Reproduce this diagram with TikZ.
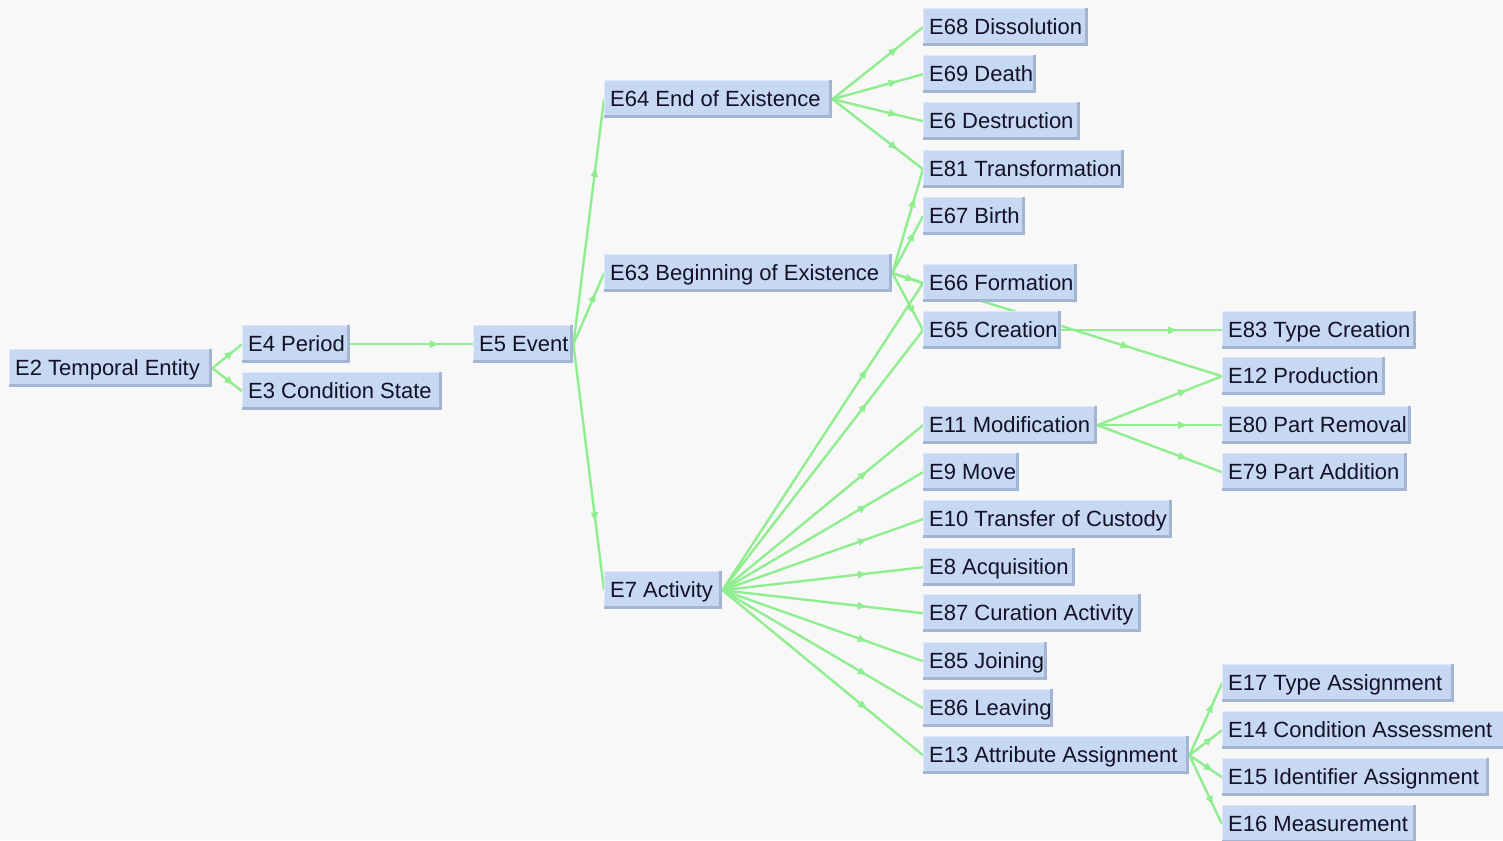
\documentclass[tikz,border=0pt]{standalone}
\usepackage{fontspec}
\setmainfont{Liberation Sans}
\usetikzlibrary{arrows.meta,decorations.markings}
\definecolor{bgc}{RGB}{248,248,248}
\definecolor{boxfill}{RGB}{198,216,242}
\definecolor{boxdark}{RGB}{163,181,210}
\definecolor{boxlight}{RGB}{222,234,250}
\definecolor{edgec}{RGB}{144,238,144}
\definecolor{txtc}{RGB}{20,16,40}
\pgfdeclarelayer{bglayer}\pgfdeclarelayer{edgelayer}
\pgfsetlayers{bglayer,edgelayer,main}
\tikzset{
 cbox/.style={rectangle, anchor=north west, minimum height=38pt, inner sep=0pt, fill=boxdark, text=txtc,
   font=\fontsize{22}{26}\selectfont, text height=18pt, text depth=3pt,
   path picture={\fill[boxfill] (path picture bounding box.north west) rectangle ([xshift=-3pt,yshift=3pt]path picture bounding box.south east);
   \draw[boxlight, line width=1.2pt] ([yshift=3pt]path picture bounding box.south west) -- (path picture bounding box.north west) -- ([xshift=-3pt]path picture bounding box.north east);}},
 isa/.style={draw, color=edgec, line width=2.4pt, postaction={decorate},
   decoration={markings, mark=at position 0.72 with {\arrow{Triangle[length=9pt,width=7pt]}}}},
}
\newcommand\cnode[5]{\node[cbox, minimum width=#4pt] (#1) at (#2,#3) {\hspace*{6pt}\makebox[\dimexpr#4pt-6pt\relax][l]{#5}};}
\begin{document}
\begin{tikzpicture}[x=1pt,y=-1pt]
\useasboundingbox (0,0) rectangle (1503,840);
\begin{pgfonlayer}{bglayer}
\fill[bgc] (0,0) rectangle (1503,840);
\end{pgfonlayer}
\cnode{e2}{9}{349}{203}{E2 Temporal Entity}
\cnode{e4}{242}{325}{108}{E4 Period}
\cnode{e3}{242}{372}{200}{E3 Condition State}
\cnode{e5}{473}{325}{100}{E5 Event}
\cnode{e64}{604}{80}{228}{E64 End of Existence}
\cnode{e63}{604}{254}{288}{E63 Beginning of Existence}
\cnode{e7}{604}{571}{118}{E7 Activity}
\cnode{e68}{923}{8}{165}{E68 Dissolution}
\cnode{e69}{923}{55}{113}{E69 Death}
\cnode{e6}{923}{102}{157}{E6 Destruction}
\cnode{e81}{923}{150}{201}{E81 Transformation}
\cnode{e67}{923}{197}{102}{E67 Birth}
\cnode{e66}{923}{264}{154}{E66 Formation}
\cnode{e65}{923}{311}{138}{E65 Creation}
\cnode{e11}{923}{406}{174}{E11 Modification}
\cnode{e9}{923}{453}{96}{E9 Move}
\cnode{e10}{923}{500}{249}{E10 Transfer of Custody}
\cnode{e8}{923}{548}{152}{E8 Acquisition}
\cnode{e87}{923}{594}{218}{E87 Curation Activity}
\cnode{e85}{923}{642}{124}{E85 Joining}
\cnode{e86}{923}{689}{130}{E86 Leaving}
\cnode{e13}{923}{736}{266}{E13 Attribute Assignment}
\cnode{e83}{1222}{311}{194}{E83 Type Creation}
\cnode{e12}{1222}{357}{163}{E12 Production}
\cnode{e80}{1222}{406}{189}{E80 Part Removal}
\cnode{e79}{1222}{453}{185}{E79 Part Addition}
\cnode{e17}{1222}{664}{232}{E17 Type Assignment}
\cnode{e14}{1222}{711}{285}{E14 Condition Assessment}
\cnode{e15}{1222}{758}{267}{E15 Identifier Assignment}
\cnode{e16}{1222}{805}{194}{E16 Measurement}
\begin{pgfonlayer}{edgelayer}
\foreach \a/\b in {e2/e4,e2/e3,e4/e5,e5/e64,e5/e63,e5/e7,
  e64/e68,e64/e69,e64/e6,e64/e81,
  e63/e81,e63/e67,e63/e66,e63/e65,e63/e12,
  e7/e66,e7/e65,e7/e11,e7/e9,e7/e10,e7/e8,e7/e87,e7/e85,e7/e86,e7/e13,
  e65/e83,e11/e12,e11/e80,e11/e79,
  e13/e17,e13/e14,e13/e15,e13/e16}
  {\draw[isa] (\a.east) -- (\b.west);}
\end{pgfonlayer}
\end{tikzpicture}
\end{document}
